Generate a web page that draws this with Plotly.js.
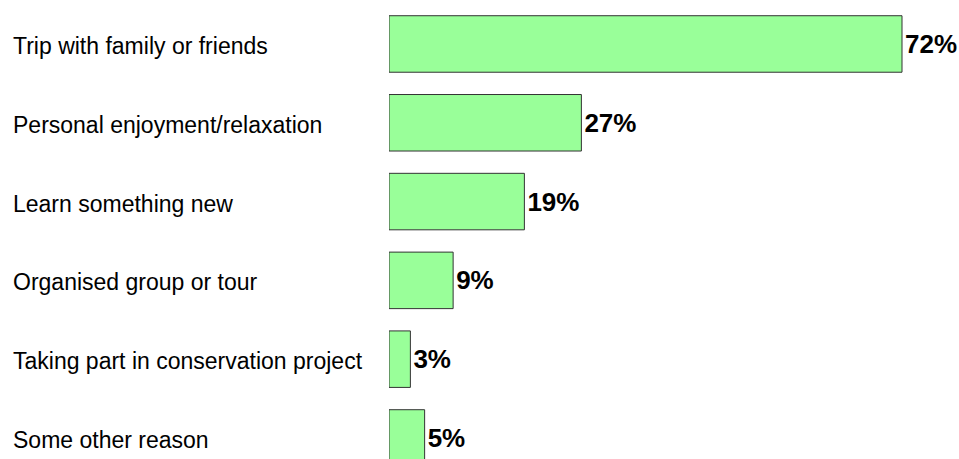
<!DOCTYPE html>
<html>
<head>
<meta charset="utf-8">
<script src="https://cdn.plot.ly/plotly-3.0.1.min.js"></script>
<style>html,body{margin:0;padding:0;background:#fff;}#chart{width:959px;height:459px;}</style>
</head>
<body>
<div id="chart"></div>
<script>
const categories = [
  "Trip with family or friends",
  "Personal enjoyment/relaxation",
  "Learn something new",
  "Organised group or tour",
  "Taking part in conservation project",
  "Some other reason"
];
const values = [72, 27, 19, 9, 3, 5];
const valueLabels = ["72%", "27%", "19%", "9%", "3%", "5%"];

const trace = {
  type: "bar",
  orientation: "h",
  y: categories,
  x: values,
  text: valueLabels,
  textposition: "outside",
  cliponaxis: false,
  textfont: {family: "Liberation Sans, Arial, sans-serif", size: 26, color: "#000", weight: "bold"},
  marker: {color: "#99FF99", line: {color: "#333333", width: 1}},
  width: 0.717,
  hoverinfo: "none"
};

const annotations = categories.map((c) => ({
  text: c,
  xref: "paper",
  yref: "y",
  x: -0.6632,
  y: c,
  xanchor: "left",
  yanchor: "middle",
  yshift: -2,
  showarrow: false,
  font: {family: "Liberation Sans, Arial, sans-serif", size: 23, color: "#000"}
}));

const layout = {
  width: 959,
  height: 459,
  margin: {l: 389, r: 0, t: 0, b: 0, pad: 0},
  paper_bgcolor: "#ffffff",
  plot_bgcolor: "#ffffff",
  showlegend: false,
  xaxis: {range: [0, 80], visible: false, showgrid: false, zeroline: false, fixedrange: true},
  yaxis: {
    type: "category",
    categoryorder: "array",
    categoryarray: categories,
    range: [5.267, -0.558],
    showticklabels: false,
    showgrid: false,
    zeroline: false,
    showline: false,
    ticks: "",
    fixedrange: true
  },
  annotations: annotations
};

Plotly.newPlot("chart", [trace], layout, {staticPlot: true, displayModeBar: false});
</script>
</body>
</html>
